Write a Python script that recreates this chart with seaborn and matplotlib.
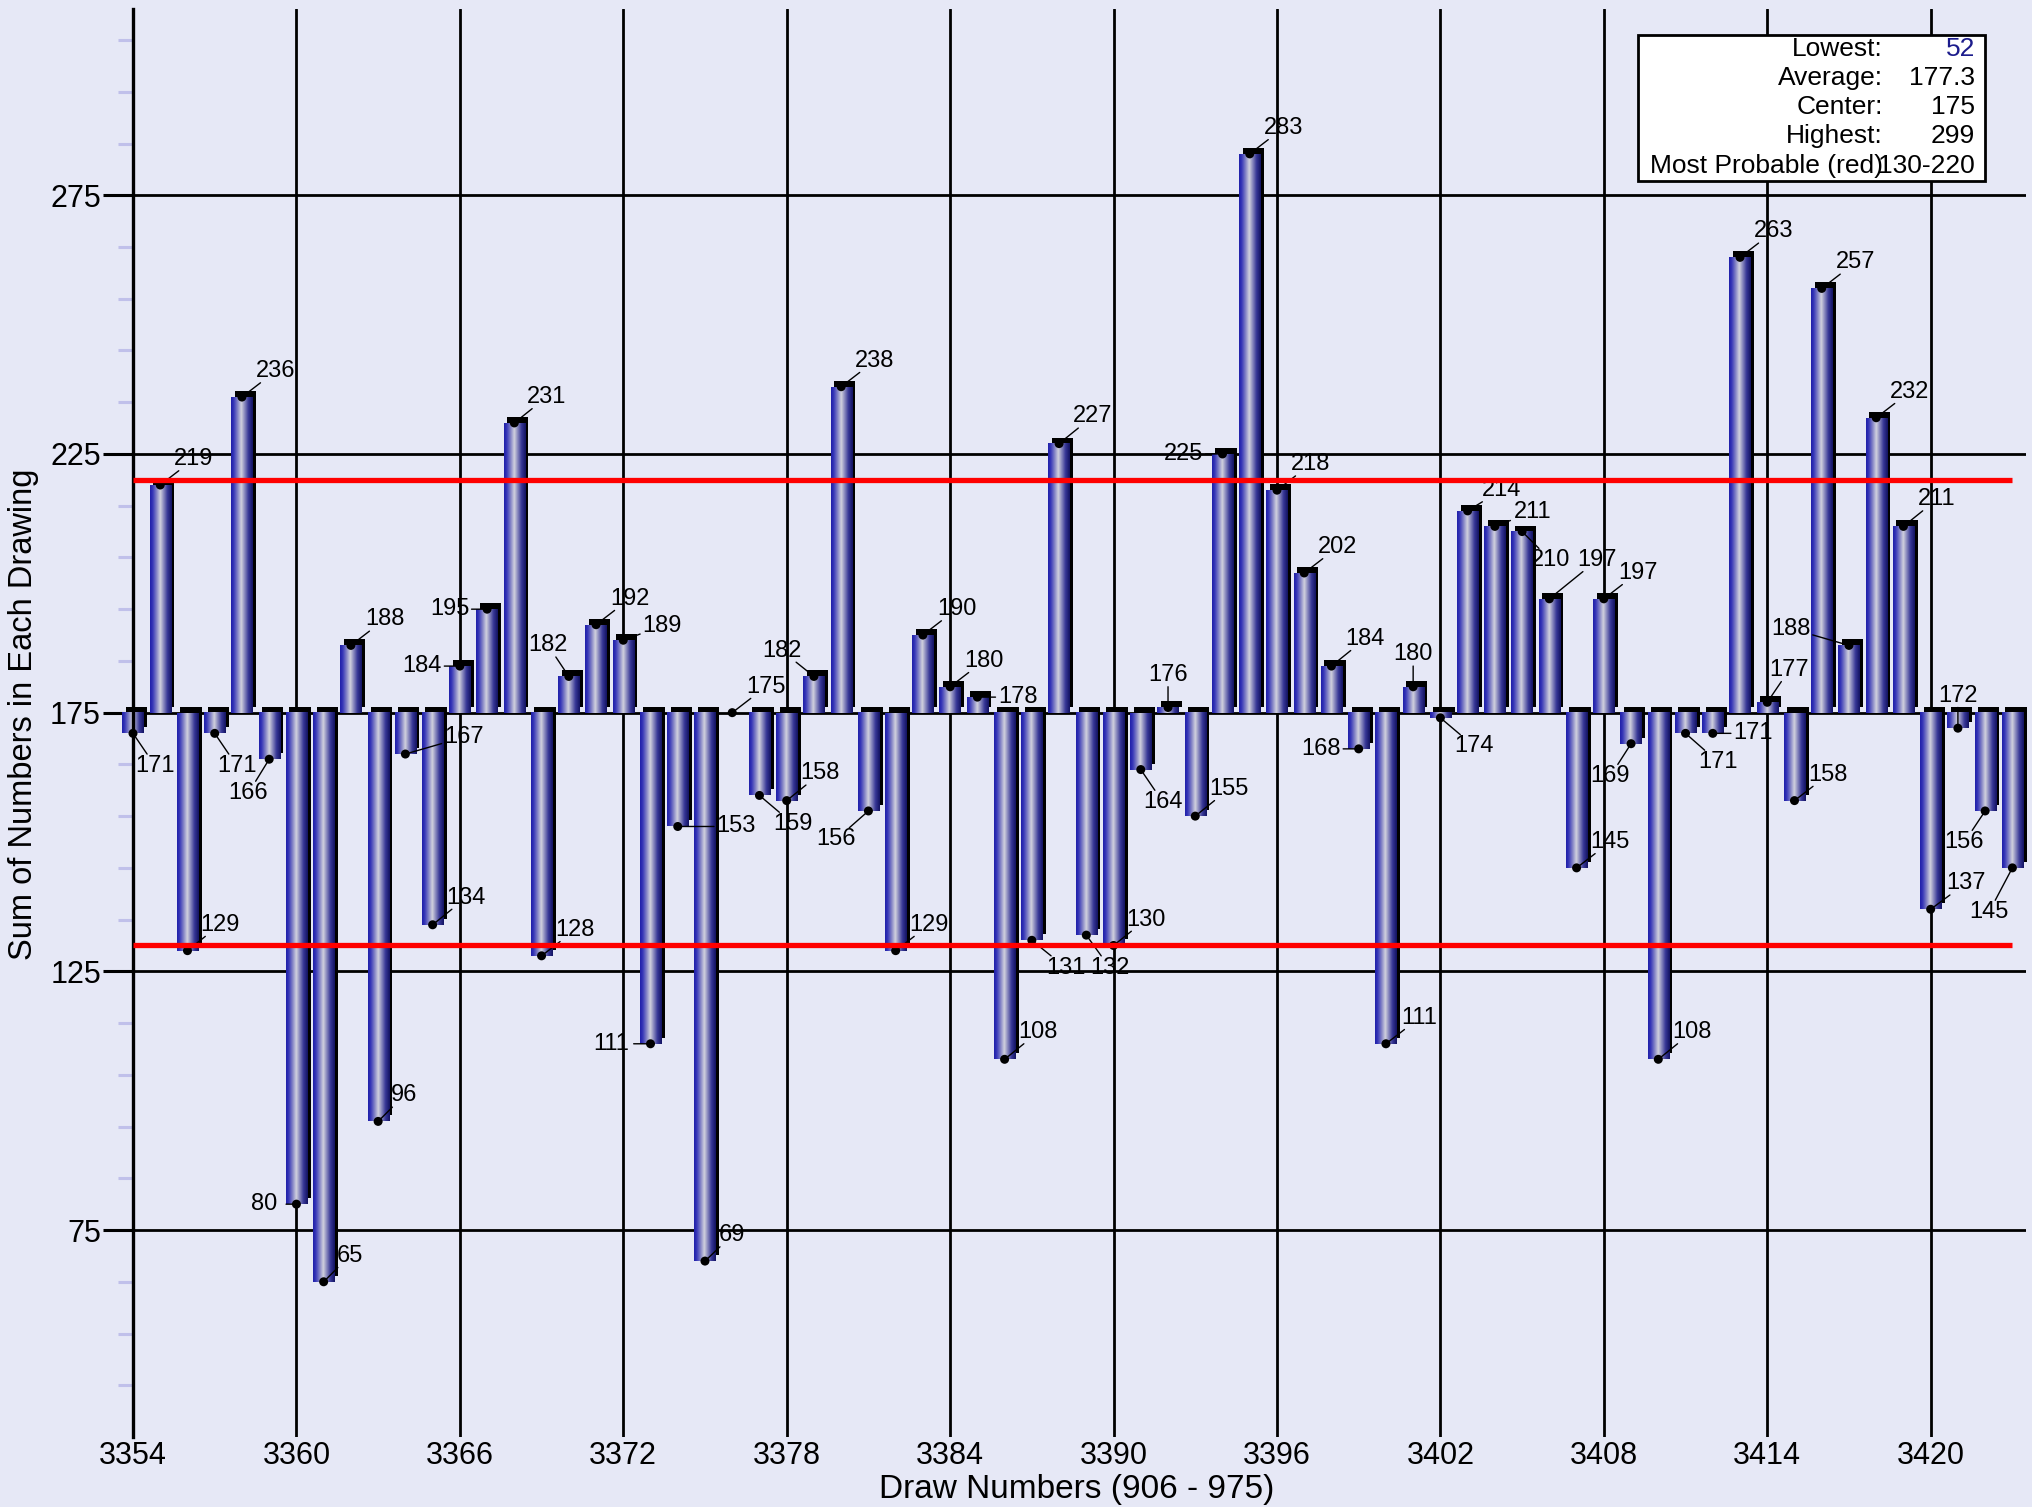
import numpy as np
import pandas as pd
import matplotlib
matplotlib.use("Agg")
import matplotlib.pyplot as plt
import seaborn as sns
from matplotlib.colors import LinearSegmentedColormap
from matplotlib.patches import Rectangle
from matplotlib.transforms import ScaledTranslation

# ---------------- data ----------------
DRAWS = list(range(3354, 3424))          # draws 906 - 975
SUMS = [171, 219, 129, 171, 236, 166, 80, 65, 188, 96,
        167, 134, 184, 195, 231, 128, 182, 192, 189, 111,
        153, 69, 175, 159, 158, 182, 238, 156, 129, 190,
        180, 178, 108, 131, 227, 132, 130, 164, 176, 155,
        225, 283, 218, 202, 184, 168, 111, 180, 174, 214,
        211, 210, 197, 145, 197, 169, 108, 171, 171, 263,
        177, 158, 257, 188, 232, 211, 137, 172, 156, 145]
CENTER = 175
PROB_LOW, PROB_HIGH = 130, 220
X_TICKS = [3354, 3360, 3366, 3372, 3378, 3384, 3390, 3396, 3402, 3408, 3414, 3420]
Y_TICKS = [75, 125, 175, 225, 275]
STAT_NAMES = ["Lowest:", "Average:", "Center:", "Highest:", "Most Probable (red)"]
STAT_VALUES = ["52", "177.3", "175", "299", "130-220"]
STAT_COLORS = ["#1c1c8c", "black", "black", "black", "black"]

# label offsets from the value dot (reference pixels, y downwards)
LABEL_OFFSETS = [(17, 25), (26, -20), (25, -20), (17, 25), (26, -20), (-16, 26), (-25, 0), (20, -20), (26, -20), (20, -20),
                 (45, -13), (26, -21), (-29, 0), (-29, 0), (25, -20), (26, -20), (-16, -24), (26, -20), (30, -11), (-30, 0),
                 (45, 0), (21, -20), (26, -20), (26, 22), (26, -21), (-25, -20), (26, -20), (-25, 22), (26, -20), (26, -20),
                 (26, -20), (31, 0), (26, -21), (26, 21), (26, -21), (18, 25), (25, -20), (17, 25), (0, -25), (26, -21),
                 (-30, 0), (26, -20), (26, -20), (26, -20), (26, -21), (-29, 0), (26, -20), (0, -25), (26, 22), (26, -16),
                 (29, -11), (22, 22), (37, -30), (26, -20), (26, -20), (-16, 25), (26, -21), (25, 22), (31, 0), (26, -20),
                 (17, -25), (26, -20), (26, -20), (-45, -13), (26, -20), (26, -21), (27, -20), (0, -25), (-16, 24), (-18, 34)]

# ---------------- style ----------------
sns.set_theme(style="white")
plt.rcParams['font.family'] = ['Liberation Sans', 'DejaVu Sans']
BG = '#E6E8F6'
W, H = 2032, 1507
fig = plt.figure(figsize=(W / 100, H / 100), dpi=100, facecolor=BG)
ax = fig.add_axes([133 / W, 70 / H, 1893 / W, 1428 / H])
ax.set_facecolor(BG)

df = pd.DataFrame({'draw': DRAWS, 'dev': np.array(SUMS) - CENTER})
sns.barplot(data=df, x='draw', y='dev', native_scale=True, width=0.78, bottom=CENTER,
            color='#22228c', errorbar=None, ax=ax, zorder=2.1, linewidth=0)

cmap = LinearSegmentedColormap.from_list('cyl', [
    (0.0, '#1e1ea8'), (0.12, '#3535b8'), (0.30, '#8282c6'), (0.47, '#d2d2de'),
    (0.62, '#8a8abe'), (0.80, '#363696'), (1.0, '#121260')])
grad = np.linspace(0, 1, 256).reshape(1, -1)
shadow_tr = ax.transData + ScaledTranslation(3.5 / 100, 6 / 100, fig.dpi_scale_trans)
for p in list(ax.patches):
    x0, w = p.get_x(), p.get_width()
    y0, h = p.get_y(), p.get_height()
    p.set_clip_on(False)
    if h == 0:
        continue
    lo, hi = min(y0, y0 + h), max(y0, y0 + h)
    ax.add_patch(Rectangle((x0, lo), w, hi - lo, transform=shadow_tr, facecolor='black',
                           edgecolor='none', zorder=2.0, clip_on=False))
    im = ax.imshow(grad, extent=(x0, x0 + w, lo, hi), aspect='auto', cmap=cmap,
                   zorder=2.2, interpolation='bilinear')
    im.set_clip_on(False)

# value dots
sns.scatterplot(x=DRAWS, y=SUMS, color='black', s=42, edgecolor='none', zorder=3.5,
                ax=ax, legend=False, clip_on=False)

# value labels + leaders
S = W / 1568
hw, hh = 17 * S, 9 * S
for d, v, (dx, dy) in zip(DRAWS, SUMS, LABEL_OFFSETS):
    ox, oy = dx * S, -dy * S
    ax.annotate(str(v), xy=(d, v), xytext=(ox, oy), textcoords='offset pixels',
                ha='center', va='center', fontsize=17, color='black', zorder=0.4,
                annotation_clip=False)
    t = min(hw / abs(ox) if ox else np.inf, hh / abs(oy) if oy else np.inf)
    if t < 1:
        ax.annotate('', xy=(d, v), xytext=(ox * (1 - t), oy * (1 - t)), textcoords='offset pixels',
                    arrowprops=dict(arrowstyle='-', color='black', lw=1.0, shrinkA=0, shrinkB=0),
                    zorder=3.2, annotation_clip=False)

# most-probable range lines
ax.hlines([PROB_LOW, PROB_HIGH], DRAWS[0], DRAWS[-1], colors='#ff0000', lw=3.8, zorder=4)

# axes, grid, ticks
ax.set_axisbelow(True)
ax.set_xticks(X_TICKS)
ax.set_xticklabels([str(t) for t in X_TICKS])
ax.set_yticks(Y_TICKS)
ax.set_yticks([y for y in range(45, 311, 10) if y not in Y_TICKS], minor=True)
ax.grid(True, which='major', color='black', lw=2.0)
ax.grid(False, which='minor')
ax.set_xlim(3354, 3423.5)
ax.set_ylim(35, 311)
for s in ['top', 'right', 'bottom']:
    ax.spines[s].set_visible(False)
ax.spines['left'].set_color('black')
ax.spines['left'].set_linewidth(2.4)
ax.tick_params(axis='y', which='major', left=True, length=21.6, width=2.2, color='black',
               pad=1.5, labelsize=22, labelcolor='black')
ax.tick_params(axis='y', which='minor', left=True, length=11, width=2.2, color='#c0c0ea')
ax.tick_params(axis='x', which='major', bottom=True, length=0, pad=3, labelsize=22, labelcolor='black')

ax.set_xlabel('Draw Numbers (906 - 975)', fontsize=24, color='black')
ax.xaxis.label.set_va('center')
ax.xaxis.set_label_coords(0.4987, -0.037)
ax.set_ylabel('Sum of Numbers in Each Drawing', fontsize=23.5, color='black')
ax.yaxis.label.set_va('center')
ax.yaxis.set_label_coords(-0.0581, 0.506)

# stats box
fig.add_artist(Rectangle((1638 / W, 1 - 181 / H), (1985 - 1638) / W, (181 - 35) / H,
                         transform=fig.transFigure, facecolor='white', edgecolor='black',
                         lw=2, zorder=10))
row_y = [49, 78, 107.5, 136, 166]
for name, val, col, ry in zip(STAT_NAMES, STAT_VALUES, STAT_COLORS, row_y):
    fig.text(1883 / W, 1 - ry / H, name, ha='right', va='center', fontsize=19, color='black', zorder=11)
    fig.text(1975 / W, 1 - ry / H, val, ha='right', va='center', fontsize=19, color=col, zorder=11)

fig.savefig('out.png', dpi=100, facecolor=BG)
